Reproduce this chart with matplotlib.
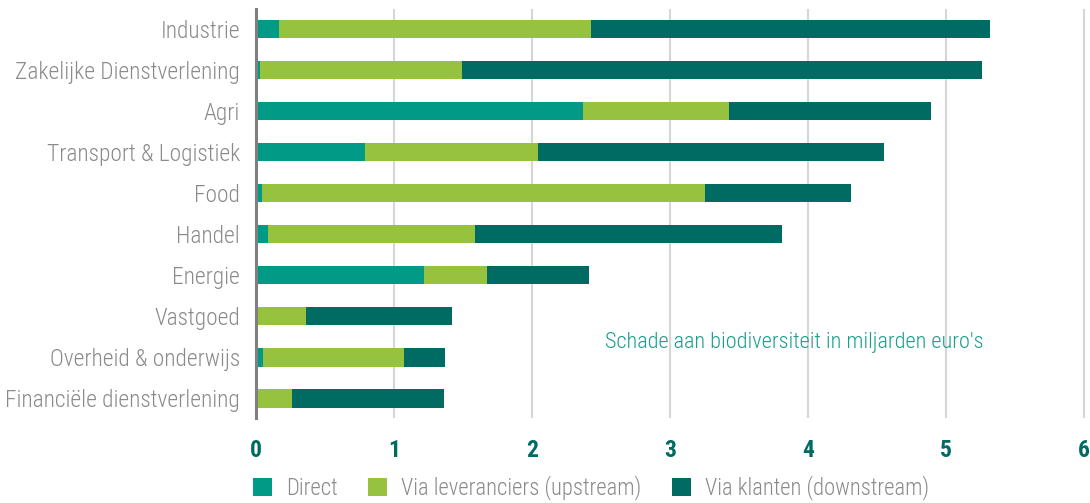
import matplotlib
matplotlib.use("Agg")
import matplotlib.pyplot as plt
import numpy as np

categories = ["Industrie", "Zakelijke Dienstverlening", "Agri", "Transport & Logistiek",
              "Food", "Handel", "Energie", "Vastgoed", "Overheid & onderwijs",
              "Financiële dienstverlening"]
direct = [0.17, 0.03, 2.37, 0.79, 0.04, 0.09, 1.22, 0.01, 0.05, 0.01]
upstream = [2.26, 1.46, 1.06, 1.25, 3.21, 1.50, 0.45, 0.35, 1.02, 0.25]
downstream = [2.89, 3.77, 1.46, 2.51, 1.06, 2.22, 0.74, 1.06, 0.30, 1.10]
series_names = ["Direct", "Via leveranciers (upstream)", "Via klanten (downstream)"]
xticks = [0, 1, 2, 3, 4, 5, 6]

plt.rcParams['font.family'] = ['Roboto Condensed', 'DejaVu Sans']
plt.rcParams['font.weight'] = 'light'

c_direct = "#009a87"
c_up = "#96c23e"
c_down = "#006b63"

fig = plt.figure(figsize=(10.9, 5.03), dpi=100)
ax = fig.add_axes([256/1090, 1-418/503, (1087-256)/1090, (418-9)/503])
y = np.arange(len(categories))
h = 0.45
ax.barh(y, direct, height=h, color=c_direct, label=series_names[0])
ax.barh(y, upstream, left=direct, height=h, color=c_up, label=series_names[1])
left2 = np.array(direct) + np.array(upstream)
ax.barh(y, downstream, left=left2, height=h, color=c_down, label=series_names[2])

ax.set_ylim(9.48, -0.49)
ax.set_xlim(0, 6.02)
ax.set_xticks(xticks)
ax.set_xticklabels([str(t) for t in xticks], fontweight='bold', color=c_down, fontsize=17)
ax.set_yticks(y)
ax.set_yticklabels(categories, color="#8a8a8a", fontsize=16.8, fontweight='light')
ax.tick_params(axis='both', length=0)
ax.tick_params(axis='x', pad=15)
ax.tick_params(axis='y', pad=11.5)
ax.grid(axis='x', color="#d6d6d6", linewidth=1.5)
ax.set_axisbelow(True)
for s in ["top", "right", "bottom"]:
    ax.spines[s].set_visible(False)
ax.spines["left"].set_color("#808080")
ax.spines["left"].set_linewidth(2.2)
ax.spines["left"].set_zorder(5)

ax.text(0.648, 0.185, "Schade aan biodiversiteit in miljarden euro's", transform=ax.transAxes,
        ha='center', va='center', color="#1a9e8f", fontsize=16, fontweight='light')

leg = fig.legend(loc='center', bbox_to_anchor=(591/1090, 1-488/503), ncol=3, frameon=False,
                 prop={'size': 16.3, 'weight': 'light'}, handlelength=0.85, handleheight=0.85,
                 handletextpad=0.6, columnspacing=1.35, borderpad=0, borderaxespad=0)
for t in leg.get_texts():
    t.set_color("#8a8a8a")

fig.savefig("out.png", dpi=100)
